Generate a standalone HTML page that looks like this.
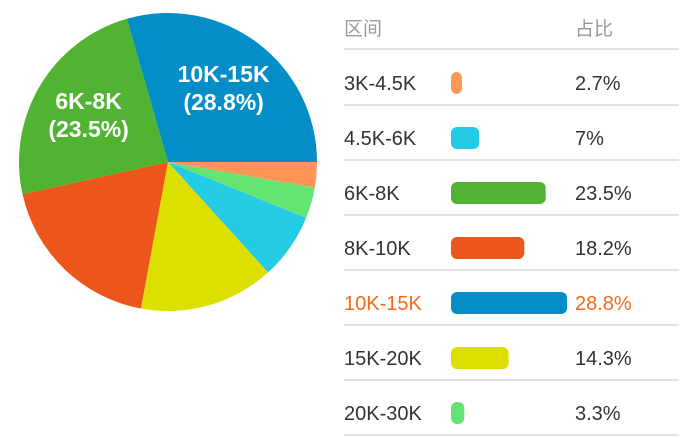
<!DOCTYPE html>
<html><head><meta charset="utf-8"><style>
body{margin:0;width:691px;height:438px;background:#fff;overflow:hidden;font-family:"Liberation Sans","Noto Sans CJK SC",sans-serif}
svg{position:absolute;left:0;top:0}
</style></head><body>
<svg width="691" height="438">
<g id="pie"></g>
<g id="tbl"></g>
</svg>
<script>
const categories=["3K-4.5K","4.5K-6K","6K-8K","8K-10K","10K-15K","15K-20K","20K-30K"];
const values=[2.7,7,23.5,18.2,28.8,14.3,3.3];
const colors=["#ff9655","#24cbe5","#50b432","#ed561b","#058dc7","#dddf00","#64e572"];
const pieOrder=[0,6,1,5,3,2,4];
const highlight=4;
const NS="http://www.w3.org/2000/svg";
function mk(t,a,p){const e=document.createElementNS(NS,t);for(const k in a)e.setAttribute(k,a[k]);p.appendChild(e);return e;}
const cx=168,cy=162,R=149;
const total=values.reduce((a,b)=>a+b,0);
const pie=document.getElementById('pie');
let ang=0;
pieOrder.forEach(i=>{
  const a0=ang,a1=ang+values[i]/total*2*Math.PI;ang=a1;
  const x0=cx+R*Math.cos(a0),y0=cy+R*Math.sin(a0),x1=cx+R*Math.cos(a1),y1=cy+R*Math.sin(a1);
  const p=mk('path',{d:`M${cx},${cy}L${x0},${y0}A${R},${R} 0 ${a1-a0>Math.PI?1:0} 1 ${x1},${y1}Z`,fill:colors[i]},pie);
  
  
  if(i===4||i===2){
    const mid=(a0+a1)/2,r=R*0.62;
    const lx=cx+r*Math.cos(mid),ly=cy+r*Math.sin(mid);
    [categories[i],'('+values[i]+'%)'].forEach((s,k)=>{
      const t=mk('text',{x:lx,y:ly-6+k*28,'text-anchor':'middle','font-size':23,'font-weight':'bold',fill:'#fff'},pie);
      t.textContent=s;
      
      
    });
  }
});
const tbl=document.getElementById('tbl');
let h1=mk('text',{x:344,y:35,'font-size':19,fill:'#999'},tbl);h1.textContent='区间';


let h2=mk('text',{x:575,y:35,'font-size':19,fill:'#999'},tbl);h2.textContent='占比';


const ln0=mk('rect',{x:344,y:48,width:335,height:2,fill:'#e3e3e3'},tbl);


categories.forEach((c,i)=>{
  const y=83+i*55;
  const col=i===highlight?'#f26a1b':'#333';
  const t=mk('text',{x:344,y:y+7,'font-size':20,fill:col},tbl);t.textContent=c;
  
  
  const w=Math.max(11,values[i]*4.03);
  const b=mk('rect',{x:451,y:y-11,width:w,height:22,rx:6,fill:colors[i]},tbl);
  
  
  const v=mk('text',{x:575,y:y+7,'font-size':20,fill:col},tbl);v.textContent=values[i]+'%';
  
  
  const l=mk('rect',{x:344,y:y+21,width:335,height:2,fill:'#e3e3e3'},tbl);
  
  
});
</script>
</body></html>
